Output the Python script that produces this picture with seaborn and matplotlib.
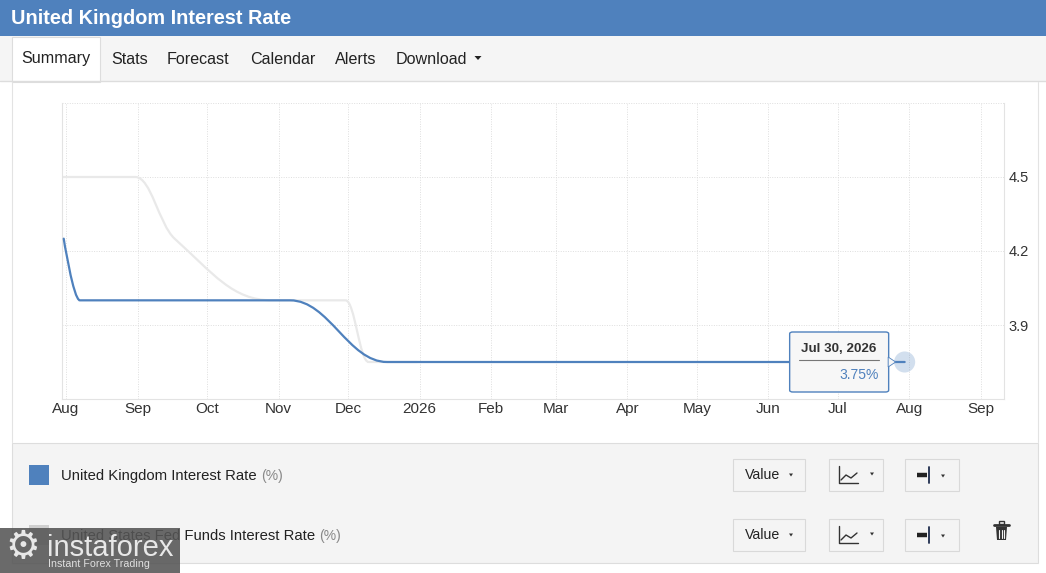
import matplotlib
matplotlib.use("Agg")
import matplotlib.pyplot as plt
import matplotlib.dates as mdates
import pandas as pd
import seaborn as sns
from matplotlib.path import Path
from matplotlib.patches import PathPatch, Rectangle, FancyBboxPatch, Polygon
from matplotlib.lines import Line2D

# --- data ------------------------------------------------------------------
uk_dates = ["2025-07-31", "2025-08-07", "2025-11-06", "2025-12-18", "2026-07-30"]
uk_rate = [4.25, 4.00, 4.00, 3.75, 3.75]

us_dates = ["2025-07-30", "2025-08-31", "2025-09-17", "2025-10-29",
            "2025-11-30", "2025-12-10", "2025-12-31"]
us_rate = [4.50, 4.50, 4.25, 4.00, 4.00, 3.75, 3.75]

month_ticks = pd.date_range("2025-08-01", "2026-09-01", freq="MS")
month_labels = ["Aug", "Sep", "Oct", "Nov", "Dec", "2026", "Feb", "Mar",
                "Apr", "May", "Jun", "Jul", "Aug", "Sep"]
y_ticks = [3.6, 3.9, 4.2, 4.5, 4.8]
y_labels = ["", "3.9", "4.2", "4.5", ""]

title = "United Kingdom Interest Rate"
tabs = ["Summary", "Stats", "Forecast", "Calendar", "Alerts", "Download"]
series_names = ["United Kingdom Interest Rate", "United States Fed Funds Interest Rate"]

BLUE = "#4f81bd"
GREY_LINE = "#e9e9e9"
W, H = 1046, 573

sns.set_theme(style="white")
plt.rcParams["font.family"] = ["Liberation Sans", "DejaVu Sans"]


def spline_path(xs, ys, smoothing=1.5):
    """Chemin de Bezier a la maniere d'un spline Highcharts."""
    n = len(xs)
    left = [(x, y) for x, y in zip(xs, ys)]
    right = [(x, y) for x, y in zip(xs, ys)]
    d = smoothing + 1
    for i in range(1, n - 1):
        px_, py_ = xs[i], ys[i]
        lx, ly = xs[i - 1], ys[i - 1]
        nx, ny = xs[i + 1], ys[i + 1]
        lcx, lcy = (smoothing * px_ + lx) / d, (smoothing * py_ + ly) / d
        rcx, rcy = (smoothing * px_ + nx) / d, (smoothing * py_ + ny) / d
        if rcx != lcx:
            corr = (rcy - lcy) * (rcx - px_) / (rcx - lcx) + py_ - rcy
            lcy += corr
            rcy += corr
        if lcy > ly and lcy > py_:
            lcy = max(ly, py_)
            rcy = 2 * py_ - lcy
        elif lcy < ly and lcy < py_:
            lcy = min(ly, py_)
            rcy = 2 * py_ - lcy
        if rcy > ny and rcy > py_:
            rcy = max(ny, py_)
            lcy = 2 * py_ - rcy
        elif rcy < ny and rcy < py_:
            rcy = min(ny, py_)
            lcy = 2 * py_ - rcy
        left[i] = (lcx, lcy)
        right[i] = (rcx, rcy)
    verts = [(xs[0], ys[0])]
    codes = [Path.MOVETO]
    for i in range(1, n):
        verts += [right[i - 1], left[i], (xs[i], ys[i])]
        codes += [Path.CURVE4] * 3
    return Path(verts, codes)


def P(x, y):
    return (x / W, 1 - y / H)


def box(x0, y0, x1, y1, **kw):
    fig.add_artist(Rectangle(P(x0, y1), (x1 - x0) / W, (y1 - y0) / H,
                             transform=fig.transFigure, **kw))


def line(xs, ys, **kw):
    fig.add_artist(Line2D([x / W for x in xs], [1 - y / H for y in ys],
                          transform=fig.transFigure, **kw))


def caret(x, y, w=5, h=3, color="#333333"):
    fig.add_artist(Polygon([P(x - w / 2, y - h / 2), P(x + w / 2, y - h / 2), P(x, y + h / 2)],
                           closed=True, transform=fig.transFigure, color=color, lw=0))


fig = plt.figure(figsize=(W / 100, H / 100), dpi=100)
fig.patch.set_facecolor("white")
renderer = fig.canvas.get_renderer()

# --- header and tabs --------------------------------------------------------
box(0, 0, W, 36, facecolor=BLUE, lw=0)
fig.text(*P(11, 18), title, color="white", fontsize=14.3, fontweight="bold", va="center")
box(0, 36, W, 81, facecolor="#f5f5f5", lw=0)
line([0, W], [81, 81], color="#dddddd", lw=1)
box(12, 37, 100, 82, facecolor="white", edgecolor="#dddddd", lw=0.8)
line([12, 12], [82, 442], color="#e3e3e3", lw=0.8)
line([1038, 1038], [82, 442], color="#e3e3e3", lw=0.8)
tab_x = [21, 111, 167, 250, 335, 396]
for tx, name in zip(tab_x, tabs):
    fig.text(*P(tx, 59), name, color="#222222", fontsize=11.6, va="center")
caret(478, 58, w=7, h=4, color="#222222")

# --- chart ------------------------------------------------------------------
ax = fig.add_axes([62 / W, 1 - 399 / H, (1004 - 62) / W, (399 - 103) / H])
ax.set_facecolor("white")

last = pd.Timestamp(uk_dates[-1])
sns.scatterplot(x=[last], y=[uk_rate[-1]], ax=ax, s=230, color=BLUE,
                alpha=0.25, edgecolor="none", zorder=4, legend=False)

us_x = mdates.date2num(pd.to_datetime(us_dates))
uk_x = mdates.date2num(pd.to_datetime(uk_dates))
ax.add_patch(PathPatch(spline_path(list(us_x), us_rate), facecolor="none",
                       edgecolor=GREY_LINE, lw=1.6, zorder=2, capstyle="round"))
ax.add_patch(PathPatch(spline_path(list(uk_x), uk_rate), facecolor="none",
                       edgecolor=BLUE, lw=1.6, zorder=3, capstyle="round"))

ax.set_xlim(pd.Timestamp("2025-07-30 06:00"), pd.Timestamp("2026-09-11"))
ax.set_ylim(3.6, 4.8)
ax.set_xticks(month_ticks)
ax.set_xticklabels(month_labels)
ax.set_yticks(y_ticks)
ax.set_yticklabels(y_labels)
ax.yaxis.tick_right()
ax.set_xlabel("")
ax.set_ylabel("")
ax.tick_params(axis="x", length=0, pad=2, labelsize=11, labelcolor="#333333")
ax.tick_params(axis="y", length=0, pad=3, labelsize=10.5, labelcolor="#333333")
ax.grid(True, color="#dedede", lw=0.7, linestyle=(0, (1, 1.5)))
ax.spines["top"].set_visible(False)
for side in ["left", "right", "bottom"]:
    ax.spines[side].set_color("#e3e3e3")
    ax.spines[side].set_linewidth(0.8)

# tooltip, placed from the last point's position
mx, my = ax.transData.transform((mdates.date2num(last), uk_rate[-1]))
my = H - my
fig.add_artist(FancyBboxPatch(P(mx - 115, my + 30), 99 / W, 60 / H,
                              boxstyle="round,pad=0,rounding_size=0.003",
                              transform=fig.transFigure, facecolor="#f7f7f7",
                              edgecolor=BLUE, lw=1, zorder=5))
fig.add_artist(Polygon([P(mx - 16.5, my - 5), P(mx - 9, my), P(mx - 16.5, my + 5)],
                       closed=True, transform=fig.transFigure, facecolor="#f7f7f7",
                       edgecolor=BLUE, lw=0.6, zorder=5))
fig.text(*P(mx - 66, my - 13), last.strftime("%b %d, %Y").replace(" 0", " "),
         fontsize=9.6, fontweight="bold", color="#333333", ha="center", va="center", zorder=6)
line([mx - 106, mx - 26], [my - 2.5, my - 2.5], color="#777777", lw=0.8, zorder=6)
fig.text(*P(mx - 26, my + 13), f"{uk_rate[-1]:.2f}%", fontsize=10, color=BLUE,
         ha="right", va="center", zorder=6)

# --- legend panel -----------------------------------------------------------
box(12, 443, 1038, 563, facecolor="#f4f4f4", edgecolor="#dddddd", lw=0.8)
for row_y, name, col in zip([475, 535], series_names, [BLUE, "#cfcfcf"]):
    box(29, row_y - 10, 49, row_y + 10, facecolor=col, lw=0)
    t = fig.text(*P(61, row_y + 1), name, fontsize=10.7, color="#222222", va="center")
    x_end = t.get_window_extent(renderer).x1
    fig.text(x_end / W + 4 / W, 1 - (row_y + 1) / H, "(%)", fontsize=10,
             color="#888888", va="center")
    by0, by1 = row_y - 16, row_y + 16
    box(733, by0, 805, by1, facecolor="#f4f4f4", edgecolor="#d9d9d9", lw=0.8)
    box(829, by0, 883, by1, facecolor="#f4f4f4", edgecolor="#d9d9d9", lw=0.8)
    box(905, by0, 959, by1, facecolor="#f4f4f4", edgecolor="#d9d9d9", lw=0.8)
    fig.text(*P(745, row_y), "Value", fontsize=10.2, color="#222222", va="center")
    caret(791, row_y, w=4, h=3)
    line([839, 839, 858], [row_y - 9, row_y + 8, row_y + 8], color="#333333", lw=1)
    line([841, 846, 851, 857], [row_y + 5, row_y, row_y + 3, row_y - 2], color="#333333", lw=1)
    caret(872, row_y - 1, w=4, h=3)
    line([917, 927], [row_y, row_y], color="#222222", lw=3.2, solid_capstyle="butt")
    line([929, 929], [row_y - 8, row_y + 8], color="#1f2d4d", lw=1.3)
    caret(943, row_y + 1, w=4, h=3)

# trash icon
box(999, 521, 1004, 524, facecolor="none", edgecolor="#333333", lw=1)
line([994, 1009], [525, 525], color="#333333", lw=2)
fig.add_artist(Polygon([P(996, 527), P(1007, 527), P(1006, 540), P(997, 540)], closed=True,
                       transform=fig.transFigure, facecolor="#333333", lw=0))
for lx in [999, 1001.5, 1004]:
    line([lx, lx], [529.5, 538], color="#f4f4f4", lw=0.8)

# --- watermark --------------------------------------------------------------
box(0, 528, 180, 573, facecolor="#555555", alpha=0.88, lw=0, zorder=8)
fig.text(*P(23, 547), "\u2699", family="DejaVu Sans", fontsize=28, color="#e8e8e8",
         ha="center", va="center", zorder=9)
fig.text(*P(47, 548), "instaforex", fontsize=21, color="#e8e8e8", va="center", zorder=9)
fig.text(*P(48, 564), "Instant Forex Trading", fontsize=7.7, color="#e0e0e0",
         va="center", zorder=9)

fig.savefig("out.png", dpi=100, facecolor=fig.get_facecolor())
